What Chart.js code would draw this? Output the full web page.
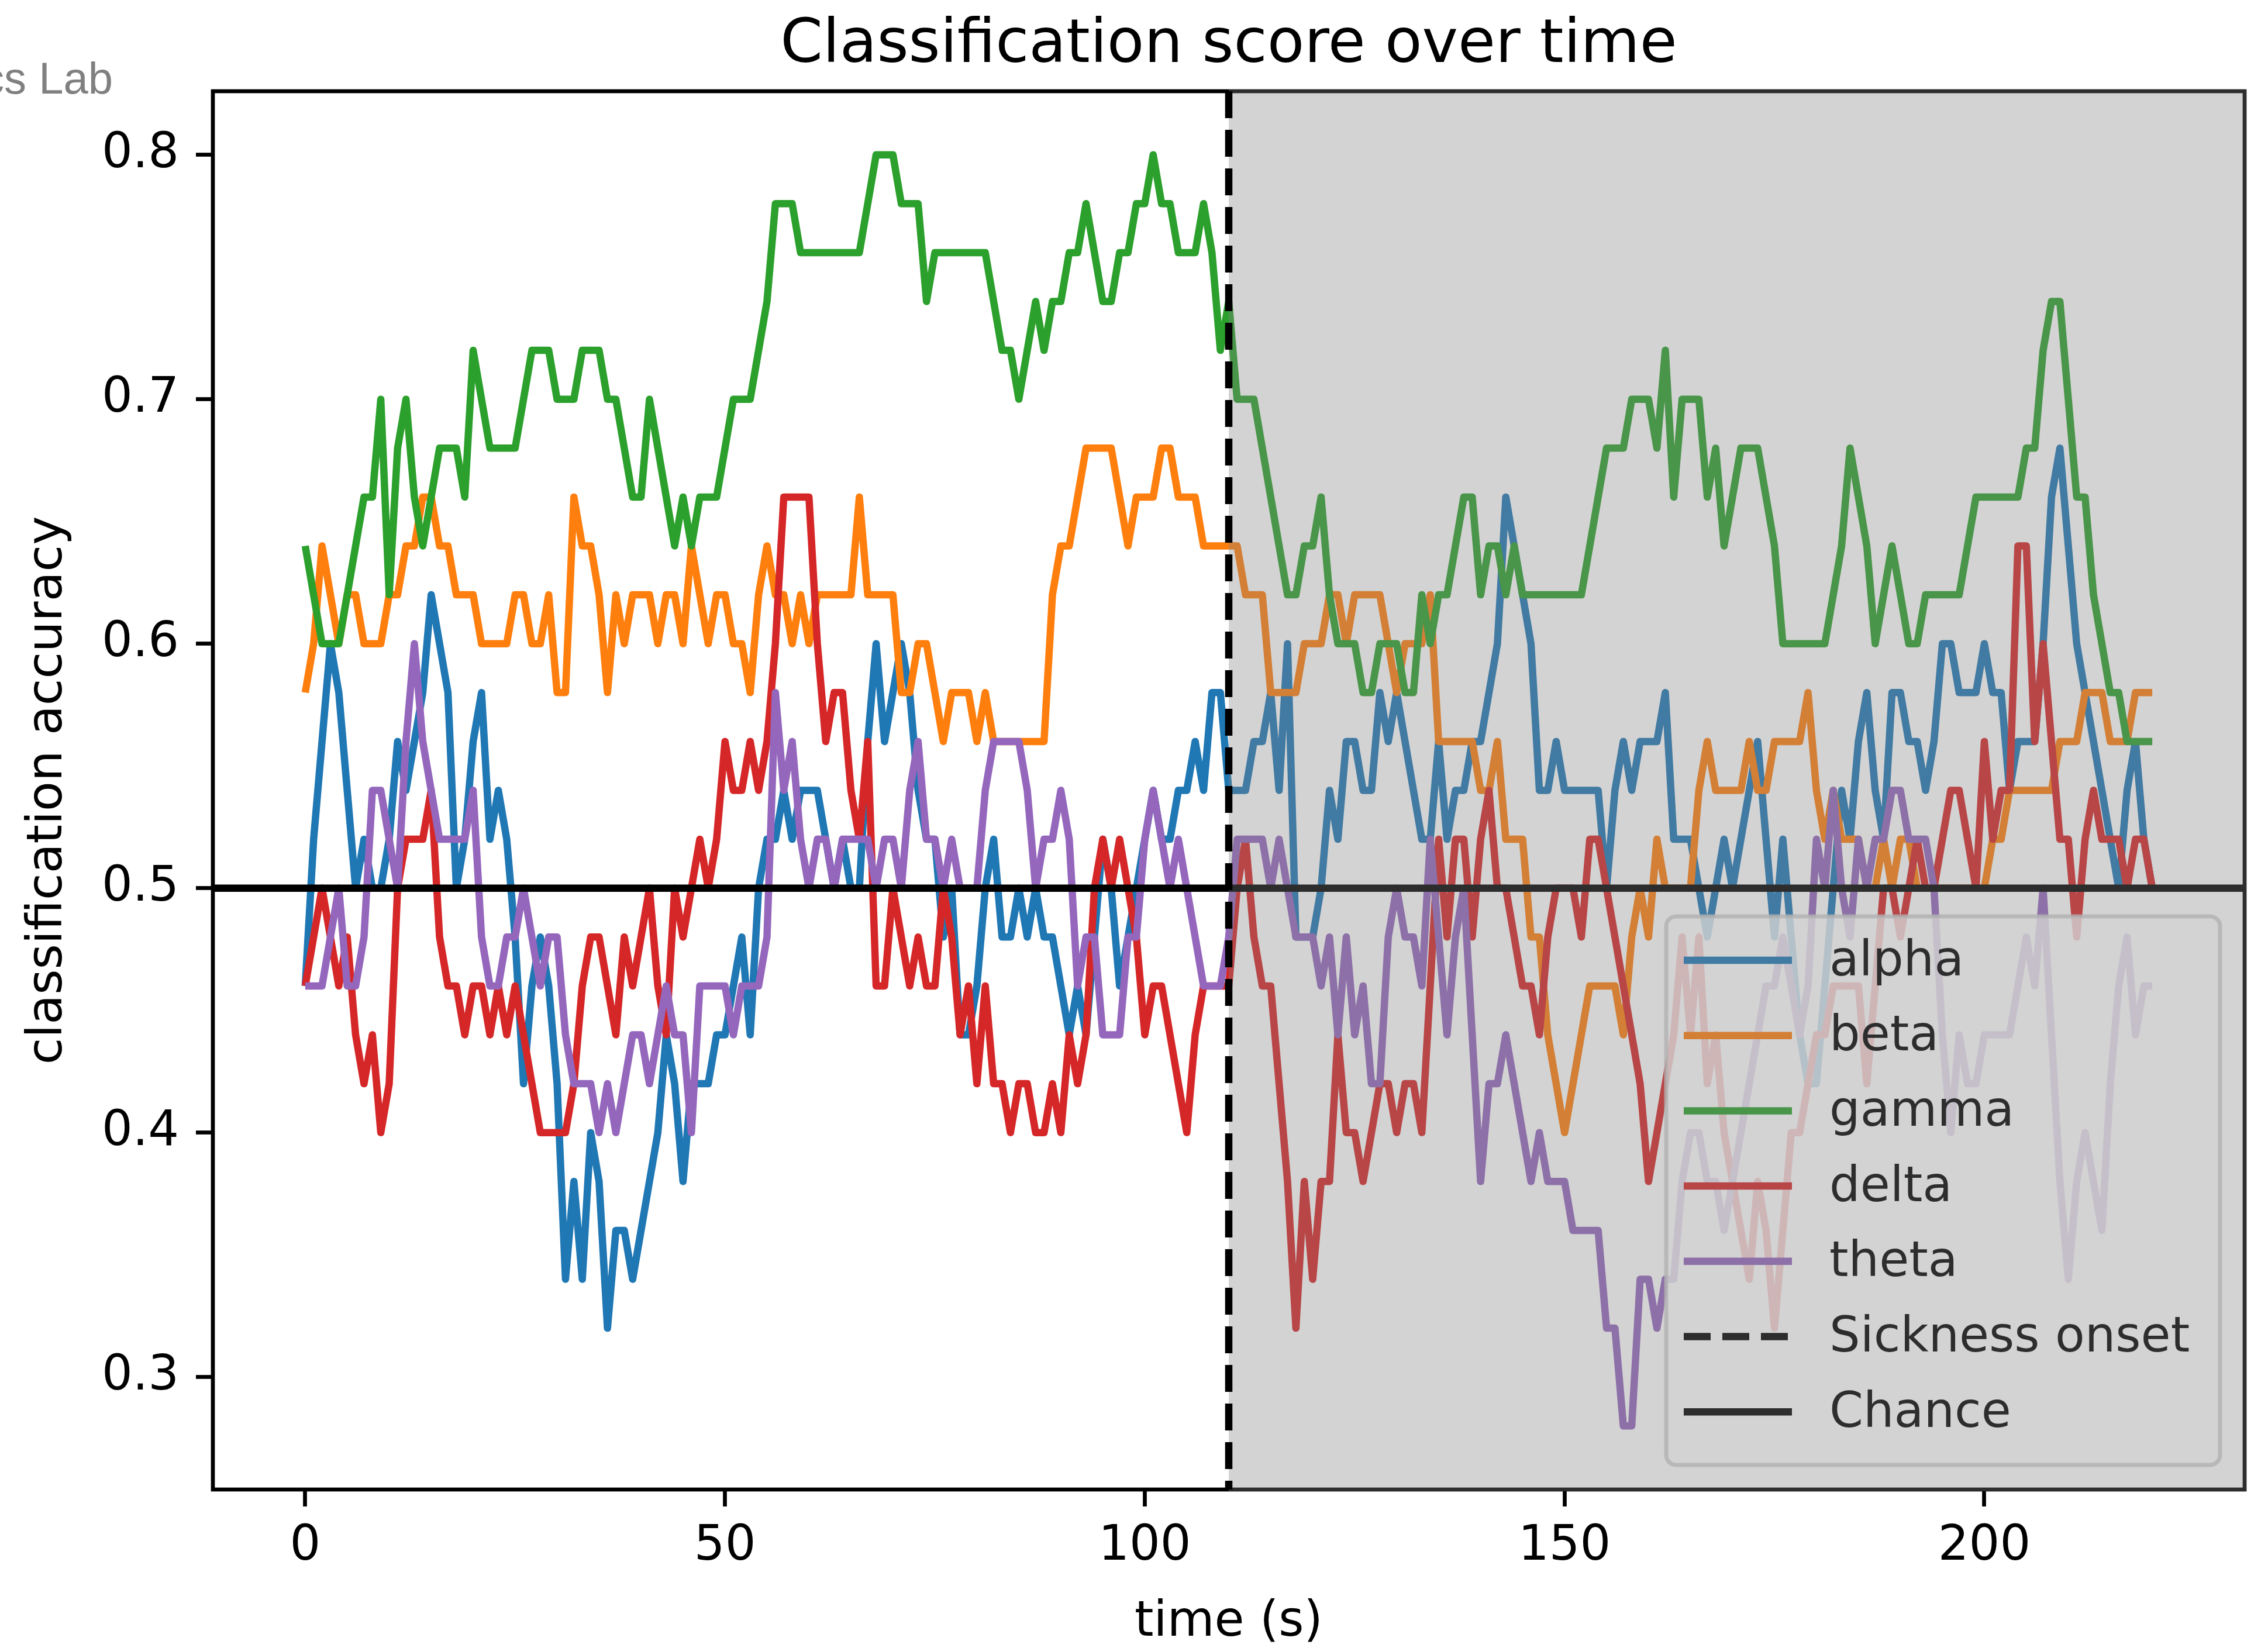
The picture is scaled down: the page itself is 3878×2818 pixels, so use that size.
<!DOCTYPE html>
<html lang="en">
<head>
<meta charset="UTF-8">
<title>Classification score over time</title>
<script src="https://cdn.jsdelivr.net/npm/chart.js@4.4.0/dist/chart.umd.min.js"></script>
<style>
  html, body { margin: 0; padding: 0; background: #fff; }
  canvas { display: block; }
</style>
</head>
<body>
<canvas id="scoreChart" width="3878" height="2818"></canvas>
<script>
// one sample per second, 0..220 s
const seconds = Array.from({ length: 221 }, (_, i) => i);

const alpha = [
  0.46,0.52,0.56,0.60,0.58,0.54,0.50,0.52,0.50,0.50,
  0.52,0.56,0.54,0.56,0.58,0.62,0.60,0.58,0.50,0.52,
  0.56,0.58,0.52,0.54,0.52,0.48,0.42,0.46,0.48,0.46,
  0.42,0.34,0.38,0.34,0.40,0.38,0.32,0.36,0.36,0.34,
  0.36,0.38,0.40,0.44,0.42,0.38,0.42,0.42,0.42,0.44,
  0.44,0.46,0.48,0.44,0.50,0.52,0.52,0.54,0.52,0.54,
  0.54,0.54,0.52,0.50,0.52,0.50,0.50,0.56,0.60,0.56,
  0.58,0.60,0.58,0.54,0.52,0.52,0.48,0.50,0.44,0.44,
  0.46,0.50,0.52,0.48,0.48,0.50,0.48,0.50,0.48,0.48,
  0.46,0.44,0.46,0.44,0.48,0.52,0.50,0.46,0.48,0.50,
  0.52,0.54,0.52,0.52,0.54,0.54,0.56,0.54,0.58,0.58,
  0.54,0.54,0.54,0.56,0.56,0.58,0.54,0.60,0.48,0.48,
  0.48,0.50,0.54,0.52,0.56,0.56,0.54,0.54,0.58,0.56,
  0.58,0.56,0.54,0.52,0.52,0.56,0.52,0.54,0.54,0.56,
  0.56,0.58,0.60,0.66,0.64,0.62,0.60,0.54,0.54,0.56,
  0.54,0.54,0.54,0.54,0.54,0.50,0.54,0.56,0.54,0.56,
  0.56,0.56,0.58,0.52,0.52,0.52,0.50,0.48,0.50,0.52,
  0.50,0.52,0.54,0.56,0.52,0.48,0.52,0.48,0.44,0.42,
  0.42,0.46,0.50,0.54,0.52,0.56,0.58,0.54,0.52,0.58,
  0.58,0.56,0.56,0.54,0.56,0.60,0.60,0.58,0.58,0.58,
  0.60,0.58,0.58,0.54,0.56,0.56,0.56,0.60,0.66,0.68,
  0.64,0.60,0.58,0.56,0.54,0.52,0.50,0.54,0.56,0.52,0.50
];

const beta = [
  0.58,0.60,0.64,0.62,0.60,0.62,0.62,0.60,0.60,0.60,
  0.62,0.62,0.64,0.64,0.66,0.66,0.64,0.64,0.62,0.62,
  0.62,0.60,0.60,0.60,0.60,0.62,0.62,0.60,0.60,0.62,
  0.58,0.58,0.66,0.64,0.64,0.62,0.58,0.62,0.60,0.62,
  0.62,0.62,0.60,0.62,0.62,0.60,0.64,0.62,0.60,0.62,
  0.62,0.60,0.60,0.58,0.62,0.64,0.62,0.62,0.60,0.62,
  0.60,0.62,0.62,0.62,0.62,0.62,0.66,0.62,0.62,0.62,
  0.62,0.58,0.58,0.60,0.60,0.58,0.56,0.58,0.58,0.58,
  0.56,0.58,0.56,0.56,0.56,0.56,0.56,0.56,0.56,0.62,
  0.64,0.64,0.66,0.68,0.68,0.68,0.68,0.66,0.64,0.66,
  0.66,0.66,0.68,0.68,0.66,0.66,0.66,0.64,0.64,0.64,
  0.64,0.64,0.62,0.62,0.62,0.58,0.58,0.58,0.58,0.60,
  0.60,0.60,0.62,0.62,0.60,0.62,0.62,0.62,0.62,0.60,
  0.58,0.60,0.60,0.60,0.62,0.56,0.56,0.56,0.56,0.56,
  0.54,0.54,0.56,0.52,0.52,0.52,0.48,0.48,0.44,0.42,
  0.40,0.42,0.44,0.46,0.46,0.46,0.46,0.44,0.48,0.50,
  0.48,0.52,0.50,0.50,0.50,0.50,0.54,0.56,0.54,0.54,
  0.54,0.54,0.56,0.54,0.54,0.56,0.56,0.56,0.56,0.58,
  0.54,0.52,0.54,0.52,0.52,0.52,0.50,0.50,0.52,0.50,
  0.52,0.52,0.50,0.50,0.50,0.50,0.50,0.50,0.50,0.50,
  0.50,0.52,0.52,0.54,0.54,0.54,0.54,0.54,0.54,0.56,
  0.56,0.56,0.58,0.58,0.58,0.56,0.56,0.56,0.58,0.58,0.58
];

const gamma = [
  0.64,0.62,0.60,0.60,0.60,0.62,0.64,0.66,0.66,0.70,
  0.62,0.68,0.70,0.66,0.64,0.66,0.68,0.68,0.68,0.66,
  0.72,0.70,0.68,0.68,0.68,0.68,0.70,0.72,0.72,0.72,
  0.70,0.70,0.70,0.72,0.72,0.72,0.70,0.70,0.68,0.66,
  0.66,0.70,0.68,0.66,0.64,0.66,0.64,0.66,0.66,0.66,
  0.68,0.70,0.70,0.70,0.72,0.74,0.78,0.78,0.78,0.76,
  0.76,0.76,0.76,0.76,0.76,0.76,0.76,0.78,0.80,0.80,
  0.80,0.78,0.78,0.78,0.74,0.76,0.76,0.76,0.76,0.76,
  0.76,0.76,0.74,0.72,0.72,0.70,0.72,0.74,0.72,0.74,
  0.74,0.76,0.76,0.78,0.76,0.74,0.74,0.76,0.76,0.78,
  0.78,0.80,0.78,0.78,0.76,0.76,0.76,0.78,0.76,0.72,
  0.74,0.70,0.70,0.70,0.68,0.66,0.64,0.62,0.62,0.64,
  0.64,0.66,0.62,0.60,0.60,0.60,0.58,0.58,0.60,0.60,
  0.60,0.58,0.58,0.62,0.60,0.62,0.62,0.64,0.66,0.66,
  0.62,0.64,0.64,0.62,0.64,0.62,0.62,0.62,0.62,0.62,
  0.62,0.62,0.62,0.64,0.66,0.68,0.68,0.68,0.70,0.70,
  0.70,0.68,0.72,0.66,0.70,0.70,0.70,0.66,0.68,0.64,
  0.66,0.68,0.68,0.68,0.66,0.64,0.60,0.60,0.60,0.60,
  0.60,0.60,0.62,0.64,0.68,0.66,0.64,0.60,0.62,0.64,
  0.62,0.60,0.60,0.62,0.62,0.62,0.62,0.62,0.64,0.66,
  0.66,0.66,0.66,0.66,0.66,0.68,0.68,0.72,0.74,0.74,
  0.70,0.66,0.66,0.62,0.60,0.58,0.58,0.56,0.56,0.56,0.56
];

const delta = [
  0.46,0.48,0.50,0.48,0.46,0.48,0.44,0.42,0.44,0.40,
  0.42,0.50,0.52,0.52,0.52,0.54,0.48,0.46,0.46,0.44,
  0.46,0.46,0.44,0.46,0.44,0.46,0.44,0.42,0.40,0.40,
  0.40,0.40,0.42,0.46,0.48,0.48,0.46,0.44,0.48,0.46,
  0.48,0.50,0.46,0.44,0.50,0.48,0.50,0.52,0.50,0.52,
  0.56,0.54,0.54,0.56,0.54,0.56,0.60,0.66,0.66,0.66,
  0.66,0.60,0.56,0.58,0.58,0.54,0.52,0.56,0.46,0.46,
  0.50,0.48,0.46,0.48,0.46,0.46,0.50,0.48,0.44,0.46,
  0.42,0.46,0.42,0.42,0.40,0.42,0.42,0.40,0.40,0.42,
  0.40,0.44,0.42,0.44,0.50,0.52,0.50,0.52,0.50,0.48,
  0.44,0.46,0.46,0.44,0.42,0.40,0.44,0.46,0.46,0.46,
  0.46,0.50,0.52,0.48,0.46,0.46,0.42,0.38,0.32,0.38,
  0.34,0.38,0.38,0.44,0.40,0.40,0.38,0.40,0.42,0.42,
  0.40,0.42,0.42,0.40,0.46,0.52,0.48,0.52,0.52,0.48,
  0.52,0.54,0.50,0.50,0.48,0.46,0.46,0.44,0.48,0.50,
  0.50,0.50,0.48,0.52,0.52,0.50,0.48,0.46,0.44,0.42,
  0.38,0.40,0.42,0.44,0.48,0.44,0.48,0.42,0.44,0.40,
  0.38,0.36,0.34,0.38,0.36,0.32,0.36,0.40,0.40,0.42,
  0.44,0.44,0.46,0.46,0.46,0.46,0.42,0.46,0.50,0.50,
  0.48,0.50,0.52,0.50,0.50,0.52,0.54,0.54,0.52,0.50,
  0.56,0.52,0.54,0.54,0.64,0.64,0.56,0.60,0.56,0.52,
  0.52,0.48,0.52,0.54,0.52,0.52,0.52,0.50,0.52,0.52,0.50
];

const theta = [
  0.46,0.46,0.46,0.48,0.50,0.46,0.46,0.48,0.54,0.54,
  0.52,0.50,0.56,0.60,0.56,0.54,0.52,0.52,0.52,0.52,
  0.54,0.48,0.46,0.46,0.48,0.48,0.50,0.48,0.46,0.48,
  0.48,0.44,0.42,0.42,0.42,0.40,0.42,0.40,0.42,0.44,
  0.44,0.42,0.44,0.46,0.44,0.44,0.40,0.46,0.46,0.46,
  0.46,0.44,0.46,0.46,0.46,0.48,0.58,0.54,0.56,0.52,
  0.50,0.52,0.52,0.50,0.52,0.52,0.52,0.52,0.50,0.52,
  0.52,0.50,0.54,0.56,0.52,0.52,0.50,0.52,0.50,0.50,
  0.50,0.54,0.56,0.56,0.56,0.56,0.54,0.50,0.52,0.52,
  0.54,0.52,0.46,0.48,0.48,0.44,0.44,0.44,0.48,0.48,
  0.52,0.54,0.52,0.50,0.52,0.50,0.48,0.46,0.46,0.46,
  0.48,0.52,0.52,0.52,0.52,0.50,0.52,0.50,0.48,0.48,
  0.48,0.46,0.48,0.44,0.48,0.44,0.46,0.42,0.42,0.48,
  0.50,0.48,0.48,0.46,0.52,0.48,0.44,0.48,0.50,0.44,
  0.38,0.42,0.42,0.44,0.42,0.40,0.38,0.40,0.38,0.38,
  0.38,0.36,0.36,0.36,0.36,0.32,0.32,0.28,0.28,0.34,
  0.34,0.32,0.34,0.34,0.38,0.40,0.40,0.38,0.38,0.36,
  0.38,0.40,0.42,0.44,0.46,0.46,0.48,0.46,0.44,0.46,
  0.52,0.50,0.54,0.50,0.48,0.52,0.50,0.52,0.52,0.54,
  0.54,0.52,0.52,0.52,0.50,0.44,0.40,0.44,0.42,0.42,
  0.44,0.44,0.44,0.44,0.46,0.48,0.46,0.50,0.44,0.38,
  0.34,0.38,0.40,0.38,0.36,0.42,0.46,0.48,0.44,0.46,0.46
];

const bandNames = ['alpha', 'beta', 'gamma', 'delta', 'theta'];
const bandColors = ['#1f77b4', '#ff7f0e', '#2ca02c', '#d62728', '#9467bd'];
const onsetTime = 110;
const chanceLevel = 0.5;
const xTicks = [0, 50, 100, 150, 200];
const yTicks = [0.3, 0.4, 0.5, 0.6, 0.7, 0.8];

const FONT = "'DejaVu Sans'";
const LW = 12.5;   // 1.5pt line at this resolution

const series = [alpha, beta, gamma, delta, theta];
const datasets = series.map((vals, i) => ({
    label: bandNames[i],
    data: seconds.map((t, k) => ({ x: t, y: vals[k] })),
    borderColor: bandColors[i],
    backgroundColor: bandColors[i],
    borderWidth: LW,
    borderJoinStyle: 'round',
    pointRadius: 0,
    tension: 0,
    fill: false,
    order: series.length - i   // first band underneath, like matplotlib
}));

function roundBox(ctx, x, y, w, h, r) {
    ctx.beginPath();
    ctx.moveTo(x + r, y);
    ctx.lineTo(x + w - r, y);
    ctx.arcTo(x + w, y, x + w, y + r, r);
    ctx.lineTo(x + w, y + h - r);
    ctx.arcTo(x + w, y + h, x + w - r, y + h, r);
    ctx.lineTo(x + r, y + h);
    ctx.arcTo(x, y + h, x, y + h - r, r);
    ctx.lineTo(x, y + r);
    ctx.arcTo(x, y, x + r, y, r);
    ctx.closePath();
}

const decorPlugin = {
    id: 'decor',
    beforeDraw(chart) {
        const ctx = chart.ctx;
        ctx.save();
        ctx.fillStyle = '#fff';
        ctx.fillRect(0, 0, chart.width, chart.height);
        ctx.restore();
    },
    afterDatasetsDraw(chart) {
        const { ctx, chartArea: a, scales: { x, y } } = chart;
        ctx.save();

        // chance level
        const yc = y.getPixelForValue(chanceLevel);
        ctx.strokeStyle = '#000';
        ctx.lineWidth = LW;
        ctx.beginPath();
        ctx.moveTo(a.left, yc);
        ctx.lineTo(a.right, yc);
        ctx.stroke();

        // legend, lower right
        const lw = 947, lh = 938;
        const lx = a.right - 42 - lw, ly = a.bottom - 42 - lh;
        roundBox(ctx, lx, ly, lw, lh, 17);
        ctx.fillStyle = 'rgba(255,255,255,0.8)';
        ctx.fill();
        ctx.lineWidth = 7;
        ctx.strokeStyle = 'rgba(204,204,204,0.8)';
        ctx.stroke();

        const entries = chart.data.datasets.map(d => ({ label: d.label, color: d.borderColor, dash: [] }));
        entries.push({ label: 'Sickness onset', color: '#000', dash: [46, 20] });
        entries.push({ label: 'Chance', color: '#000', dash: [] });
        ctx.font = '83px ' + FONT;
        ctx.textBaseline = 'middle';
        ctx.textAlign = 'left';
        entries.forEach((e, i) => {
            const ey = ly + 75 + i * 128.7;
            ctx.strokeStyle = e.color;
            ctx.lineWidth = LW;
            ctx.setLineDash(e.dash);
            ctx.beginPath();
            ctx.moveTo(lx + 30, ey);
            ctx.lineTo(lx + 215, ey);
            ctx.stroke();
            ctx.setLineDash([]);
            ctx.fillStyle = '#000';
            ctx.fillText(e.label, lx + 279, ey + 4);
        });

        // axes frame
        ctx.strokeStyle = '#000';
        ctx.lineWidth = 6.7;
        ctx.strokeRect(a.left, a.top, a.right - a.left, a.bottom - a.top);

        // shaded post-onset period
        const xs = x.getPixelForValue(onsetTime);
        ctx.fillStyle = 'rgba(128,128,128,0.35)';
        ctx.fillRect(xs, a.top - 3, a.right - xs + 3, a.bottom - a.top + 6);

        // onset marker
        ctx.strokeStyle = '#000';
        ctx.lineWidth = LW;
        ctx.setLineDash([46, 20]);
        ctx.beginPath();
        ctx.moveTo(xs, a.top);
        ctx.lineTo(xs, a.bottom);
        ctx.stroke();
        ctx.setLineDash([]);

        // title
        ctx.fillStyle = '#000';
        ctx.font = '104px ' + FONT;
        ctx.textAlign = 'center';
        ctx.textBaseline = 'alphabetic';
        ctx.fillText('Classification score over time', (a.left + a.right) / 2, 106);

        // watermark, cut by the left edge
        ctx.fillStyle = '#808080';
        ctx.font = "76px 'Liberation Sans'";
        ctx.textAlign = 'right';
        ctx.fillText('cs Lab', 193, 160);
        ctx.restore();
    }
};

const tickFont = { family: FONT, size: 83 };

new Chart(document.getElementById('scoreChart'), {
    type: 'line',
    data: { datasets: datasets },
    options: {
        responsive: false,
        animation: false,
        devicePixelRatio: 1,
        layout: { padding: { left: 0, right: 40, top: 156, bottom: 0 } },
        plugins: {
            legend: { display: false },
            tooltip: { enabled: false },
            title: { display: false }
        },
        scales: {
            x: {
                type: 'linear',
                min: -11,
                max: 231,
                afterBuildTicks: s => { s.ticks = xTicks.map(v => ({ value: v })); },
                afterFit: s => { s.height = 271; },
                ticks: { font: tickFont, color: '#000', padding: 20, maxRotation: 0, callback: v => String(v) },
                grid: { drawOnChartArea: false, drawTicks: true, tickLength: 29, tickWidth: 6.7, tickColor: '#000' },
                border: { display: false },
                title: { display: true, text: 'time (s)', font: tickFont, color: '#000', padding: { top: 0, bottom: -7 } }
            },
            y: {
                type: 'linear',
                min: 0.254,
                max: 0.826,
                afterBuildTicks: s => { s.ticks = yTicks.map(v => ({ value: v })); },
                afterFit: s => { s.width = 364; },
                ticks: { font: tickFont, color: '#000', padding: 29, callback: v => v.toFixed(1) },
                grid: { drawOnChartArea: false, drawTicks: true, tickLength: 29, tickWidth: 6.7, tickColor: '#000' },
                border: { display: false },
                title: { display: true, text: 'classification accuracy', font: tickFont, color: '#000', padding: { top: 34, bottom: 0 } }
            }
        }
    },
    plugins: [decorPlugin]
});
</script>
</body>
</html>
